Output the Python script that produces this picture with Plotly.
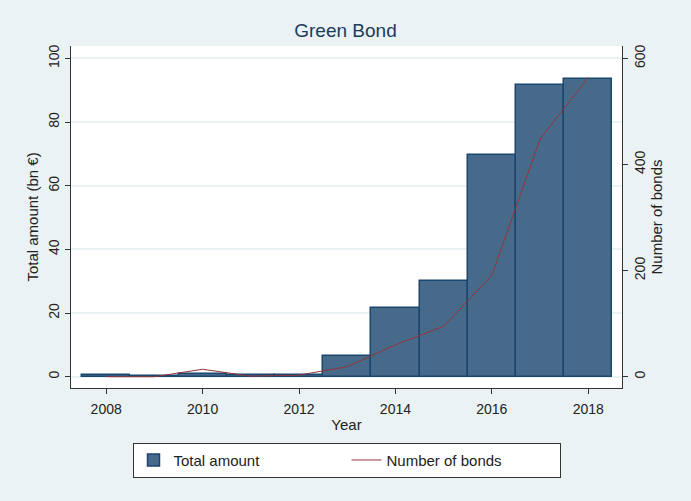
import plotly.graph_objects as go

years = [2008, 2009, 2010, 2011, 2012, 2013, 2014, 2015, 2016, 2017, 2018]
total_amount = [0.4, 0.2, 1.0, 0.4, 0.5, 6.5, 21.5, 30.2, 69.8, 91.8, 93.6]
number_of_bonds = [0, 0, 14, 1, 3, 19, 60, 95, 191, 448, 564]
x_ticks = [2008, 2010, 2012, 2014, 2016, 2018]
y_ticks = [0, 20, 40, 60, 80, 100]
y2_ticks = [0, 200, 400, 600]

FONT = "Liberation Sans, Arial, sans-serif"
BG = "#eaf2f3"

fig = go.Figure()
fig.add_trace(go.Bar(
    x=years, y=total_amount, name="Total amount", width=1.0,
    marker=dict(color="#486a8a", line=dict(color="#1a476f", width=1.5)),
))
fig.add_trace(go.Scatter(
    x=years, y=number_of_bonds, name="Number of bonds", mode="lines",
    line=dict(color="#90353b", width=1), yaxis="y2",
))

axis_common = dict(
    showline=True, linecolor="#333333", linewidth=1.2,
    ticks="outside", ticklen=5, tickcolor="#333333",
    tickfont=dict(size=14, color="#222222", family=FONT),
    zeroline=False, automargin=False,
)

fig.update_layout(
    width=691, height=501,
    paper_bgcolor=BG, plot_bgcolor="white",
    margin=dict(l=71, r=69, t=46, b=113),
    font=dict(family=FONT, color="#222222"),
    title=dict(text="Green Bond", x=0.5, xanchor="center", y=0.94, yanchor="middle",
               automargin=False,
               font=dict(size=19, color="#1e3a5c", family=FONT)),
    bargap=0,
    showlegend=True,
    legend=dict(orientation="h", x=0.5, xanchor="center", y=-0.16, yanchor="top",
                bgcolor="white", bordercolor="#333333", borderwidth=1,
                font=dict(size=15, color="#222222", family=FONT),
                entrywidth=168, traceorder="normal"),
    xaxis=dict(**axis_common, range=[2007.27, 2018.7], tickvals=x_ticks,
               showgrid=False, ticklabelstandoff=3,
               title=dict(text="Year", standoff=3, font=dict(size=15, color="#222222"))),
    yaxis=dict(**axis_common, range=[-3.55, 103.9], tickvals=y_ticks, tickangle=-90,
               showgrid=True, gridcolor=BG, gridwidth=1.5,
               title=dict(text="Total amount (bn €)", standoff=4, font=dict(size=15, color="#222222"))),
    yaxis2=dict(**axis_common, range=[-21.3, 623.4], tickvals=y2_ticks, tickangle=-90,
                overlaying="y", side="right", showgrid=False,
                title=dict(text="Number of bonds", standoff=0, font=dict(size=15, color="#222222"))),
)

fig.write_html(
    "out.html",
    config={"displayModeBar": False},
    post_script="document.body.style.margin='0';document.body.style.background='#eaf2f3';",
)
